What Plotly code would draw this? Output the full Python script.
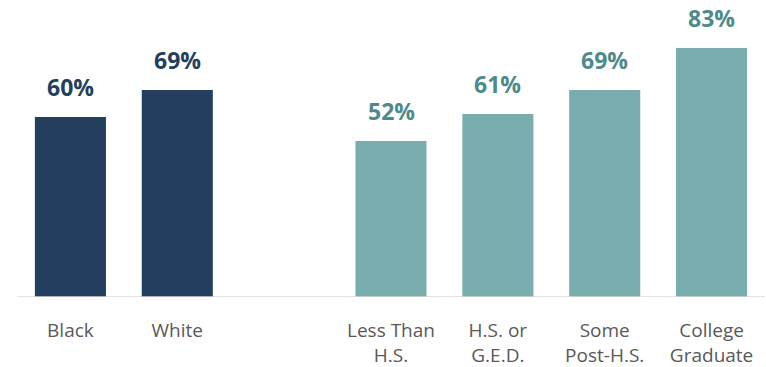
import plotly.graph_objects as go

categories = ["Black", "White", "", "Less Than<br>H.S.", "H.S. or<br>G.E.D.", "Some<br>Post-H.S.", "College<br>Graduate"]
values = [60, 69, None, 52, 61, 69, 83]
groups = ["race", "race", None, "edu", "edu", "edu", "edu"]

bar_colors = {"race": "#243f5e", "edu": "#7aadad"}
label_colors = {"race": "#243f5e", "edu": "#4f8a8a"}

xs = list(range(len(categories)))
fig = go.Figure()
bx = [x for x, v in zip(xs, values) if v is not None]
by = [v for v in values if v is not None]
bc = [bar_colors[g] for g in groups if g is not None]
fig.add_trace(go.Bar(x=bx, y=by, marker=dict(color=bc, line=dict(width=0)), width=0.665,
                     hoverinfo="skip"))

for x, v, g in zip(xs, values, groups):
    if v is None:
        continue
    fig.add_annotation(x=x, y=v, text=f"<b>{v}%</b>", showarrow=False, yanchor="bottom",
                       yshift=12, font=dict(family="Open Sans", size=23, color=label_colors[g]))

fig.update_layout(
    width=766, height=367,
    margin=dict(l=17, r=1, t=0, b=70),
    plot_bgcolor="white", paper_bgcolor="white",
    showlegend=False,
    xaxis=dict(range=[-0.5, 6.5], tickvals=xs, ticktext=categories, showgrid=False,
               zeroline=False, showline=False, ticks="", ticklabelstandoff=20,
               tickfont=dict(family="Open Sans", size=19, color="#595959")),
    yaxis=dict(range=[0, 99], visible=False, showgrid=False, zeroline=False),
    shapes=[dict(type="line", xref="paper", yref="y", x0=0, x1=1, y0=0, y1=0,
                 line=dict(color="#d9d9d9", width=1.5))],
)

fig.write_html("out.html")
